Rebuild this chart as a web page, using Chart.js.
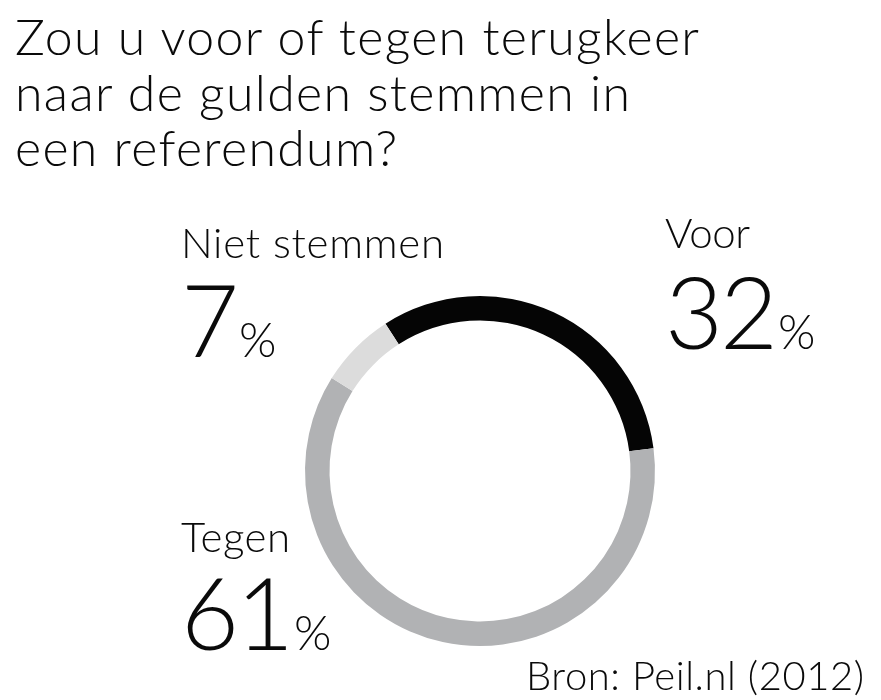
<!DOCTYPE html>
<html>
<head>
<meta charset="utf-8">
<script src="https://cdn.jsdelivr.net/npm/chart.js@4"></script>
<style>
  html, body { margin: 0; padding: 0; background: #ffffff; }
  #wrap { position: relative; width: 881px; height: 700px; overflow: hidden; background: #ffffff; }
  #c { position: absolute; left: 0; top: 0; }
  .txt { position: absolute; white-space: nowrap; color: #0a0a0a; font-family: Lato, "Open Sans", sans-serif; line-height: 1; }
</style>
</head>
<body>
<div id="wrap">
  <canvas id="c" width="881" height="700"></canvas>
</div>
<script>
// ---- data ----
const categories = ['Voor', 'Tegen', 'Niet stemmen'];
const percentages = [32, 61, 7];
const sliceColors = ['#050505', '#b1b2b4', '#dcdcdc'];
const titleLines = ['Zou u voor of tegen terugkeer', 'naar de gulden stemmen in', 'een referendum?'];
const sourceText = 'Bron: Peil.nl (2012)';
const percentSign = '%';

// ---- chart ----
new Chart(document.getElementById('c'), {
  type: 'doughnut',
  data: {
    labels: categories,
    datasets: [{
      data: percentages,
      backgroundColor: sliceColors,
      borderWidth: 0,
      hoverOffset: 0,
      offset: 0
    }]
  },
  options: {
    responsive: false,
    animation: false,
    rotation: -32.7,
    cutout: '86%',
    layout: { padding: { left: 305, right: 226, top: 296, bottom: 54 } },
    plugins: { legend: { display: false }, tooltip: { enabled: false } }
  }
});

// ---- text layout ----
const wrap = document.getElementById('wrap');
function makeText(html, size, weight) {
  const el = document.createElement('div');
  el.className = 'txt';
  el.style.fontSize = size + 'px';
  el.style.fontWeight = weight;
  el.innerHTML = html;
  el.style.left = '0px'; el.style.top = '0px';
  wrap.appendChild(el);
  return el;
}
function baselineOffset(el) {
  const probe = document.createElement('span');
  probe.style.display = 'inline-block';
  probe.style.width = '0px';
  probe.style.height = '0px';
  probe.style.verticalAlign = 'baseline';
  el.appendChild(probe);
  const b = probe.getBoundingClientRect().top - el.getBoundingClientRect().top;
  el.removeChild(probe);
  return b;
}
function place(el, x, baseline) {
  el.style.left = x + 'px';
  el.style.top = (baseline - baselineOffset(el)) + 'px';
}
function fitWidth(el, target) {
  const n = el.textContent.length;
  const w = el.getBoundingClientRect().width;
  const ls = (target - w) / Math.max(n - 1, 1);
  el.style.letterSpacing = ls + 'px';
  return ls;
}

// title
const titleBaselines = [55, 111, 166];
let titleLS = 0;
titleLines.forEach((line, i) => {
  const el = makeText(line, 50, 300);
  if (i === 0) titleLS = fitWidth(el, 684);
  else el.style.letterSpacing = titleLS + 'px';
  place(el, 15, titleBaselines[i]);
});

// category labels
const labelPos = [
  { x: 665, nameBase: 248, numBase: 349, nameW: 85 },
  { x: 181, nameBase: 552, numBase: 650, nameW: 109 },
  { x: 181, nameBase: 258, numBase: 357, nameW: 263 }
];
categories.forEach((name, i) => {
  const p = labelPos[i];
  const n = makeText(name, 42, 300);
  fitWidth(n, p.nameW);
  place(n, p.x, p.nameBase);
  const num = makeText('<span style="font-size:100px;font-weight:300;letter-spacing:-3px">' + percentages[i] +
    '</span><span style="font-size:48px;font-weight:300;margin-left:3px">' + percentSign + '</span>', 100, 300);
  place(num, p.x, p.numBase);
});

// source
const src = makeText(sourceText, 40, 300);
fitWidth(src, 338);
place(src, 526, 690);
</script>
</body>
</html>
